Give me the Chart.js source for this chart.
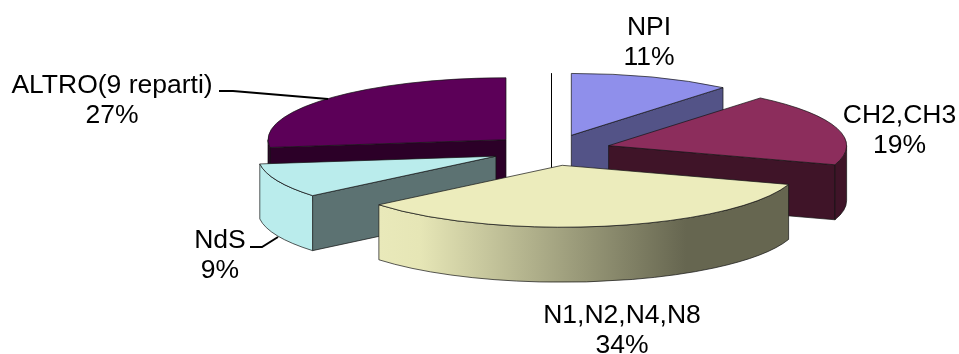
<!DOCTYPE html>
<html>
<head>
<meta charset="utf-8">
<title>Reparti</title>
<script src="https://cdn.jsdelivr.net/npm/chart.js@4"></script>
<style>
  html, body { margin: 0; padding: 0; background: #fff; }
  canvas { display: block; }
</style>
</head>
<body>
<canvas id="pie" width="959" height="354"></canvas>
<script>
// Slices, clockwise from twelve o'clock
const labels = ['NPI', 'CH2,CH3', 'N1,N2,N4,N8', 'NdS', 'ALTRO(9 reparti)'];
const values = [11, 19, 34, 9, 27];
const topColors = ['#8f8feb', '#8c2d5c', '#ececbc', '#baecec', '#5c0058'];
const sideColors = ['#535387', '#3f1428', '#666650', '#5c7272', '#2c0028'];
const wallColors = ['#535387', '#3f1428', null, '#baecec', '#2c0028'];

// 3D look of the pie
const TILT = 0.26;
const DEPTH = 55;
const EXPLODE = 60;

// Label anchors (center x, first baseline), same order as labels
const labelPos = [[649, 35], [899.5, 123], [622, 323], [220, 248], [112, 92.5]];

// Leader lines for the labels that sit away from their slice
const leaders = [
  [[219, 91], [233, 91], [328, 99]],
  [[250, 247], [262, 247], [278, 237]]
];

function wallFill(ctx, i, left, right) {
  if (wallColors[i]) return wallColors[i];
  const g = ctx.createLinearGradient(left, 0, right, 0);
  g.addColorStop(0, '#e9e9ba');
  g.addColorStop(0.1, '#e6e6b6');
  g.addColorStop(0.75, '#666650');
  g.addColorStop(1, '#666650');
  return g;
}

function drawSlice(ctx, arc, i) {
  const start = arc.startAngle;
  const end = arc.endAngle;
  const mid = (start + end) / 2;
  const ex = arc.x + Math.cos(mid) * EXPLODE;
  const ey = arc.y + Math.sin(mid) * EXPLODE * TILT;
  const rx = arc.outerRadius;
  const ry = rx * TILT;

  ctx.lineWidth = 1;
  ctx.strokeStyle = 'rgba(20,20,20,0.7)';

  // cut faces, skipping the ones turned away from the viewer
  [[start, -Math.cos(start)], [end, Math.cos(end)]].forEach(([a, facing]) => {
    if (facing <= 0) return;
    const px = ex + Math.cos(a) * rx;
    const py = ey + Math.sin(a) * ry;
    ctx.beginPath();
    ctx.moveTo(ex, ey);
    ctx.lineTo(px, py);
    ctx.lineTo(px, py + DEPTH);
    ctx.lineTo(ex, ey + DEPTH);
    ctx.closePath();
    ctx.fillStyle = sideColors[i];
    ctx.fill();
    ctx.stroke();
  });

  // curved wall, only the part facing the viewer
  const a0 = Math.max(start, 0);
  const a1 = Math.min(end, Math.PI);
  if (a0 < a1) {
    ctx.beginPath();
    ctx.ellipse(ex, ey, rx, ry, 0, a0, a1);
    ctx.ellipse(ex, ey + DEPTH, rx, ry, 0, a1, a0, true);
    ctx.closePath();
    ctx.fillStyle = wallFill(ctx, i, ex + Math.cos(a1) * rx, ex + Math.cos(a0) * rx);
    ctx.fill();
    ctx.stroke();
  }

  // top face is the library's own arc, squashed
  ctx.save();
  ctx.translate(ex, ey);
  ctx.scale(1, TILT);
  ctx.translate(-arc.x, -arc.y);
  arc.draw(ctx);
  ctx.restore();

  ctx.beginPath();
  ctx.moveTo(ex, ey);
  ctx.ellipse(ex, ey, rx, ry, 0, start, end);
  ctx.closePath();
  ctx.stroke();
}

const pie3d = {
  id: 'pie3d',
  beforeDatasetDraw(chart, args) {
    const ctx = chart.ctx;
    const arcs = args.meta.data;
    const first = arcs[0];

    // thin vertical axis behind the slices
    ctx.save();
    ctx.strokeStyle = '#000';
    ctx.lineWidth = 1;
    ctx.beginPath();
    ctx.moveTo(first.x + 0.5, first.y - first.outerRadius * TILT - 15);
    ctx.lineTo(first.x + 0.5, first.y + DEPTH);
    ctx.stroke();

    // back to front
    const order = arcs.map((a, i) => i).sort((p, q) => {
      const mp = (arcs[p].startAngle + arcs[p].endAngle) / 2;
      const mq = (arcs[q].startAngle + arcs[q].endAngle) / 2;
      return Math.sin(mp) - Math.sin(mq);
    });
    order.forEach(i => drawSlice(ctx, arcs[i], i));
    ctx.restore();
    return false;
  },
  afterDraw(chart) {
    const ctx = chart.ctx;
    ctx.save();
    ctx.strokeStyle = '#000';
    ctx.lineWidth = 2;
    leaders.forEach(line => {
      ctx.beginPath();
      line.forEach(([x, y], k) => (k ? ctx.lineTo(x, y) : ctx.moveTo(x, y)));
      ctx.stroke();
    });
    ctx.fillStyle = '#000';
    ctx.font = '26.5px "Liberation Sans", Arial, sans-serif';
    ctx.textAlign = 'center';
    labels.forEach((name, i) => {
      const [x, y] = labelPos[i];
      ctx.fillText(name, x, y);
      ctx.fillText(values[i] + '%', x, y + 30);
    });
    ctx.restore();
  }
};

new Chart(document.getElementById('pie'), {
  type: 'pie',
  data: {
    labels: labels,
    datasets: [{
      data: values,
      backgroundColor: topColors,
      borderWidth: 0,
      clip: false
    }]
  },
  options: {
    responsive: false,
    animation: false,
    radius: 238,
    layout: { padding: { left: 143, bottom: 54 } },
    plugins: { legend: { display: false }, tooltip: { enabled: false } }
  },
  plugins: [pie3d]
});
</script>
</body>
</html>
